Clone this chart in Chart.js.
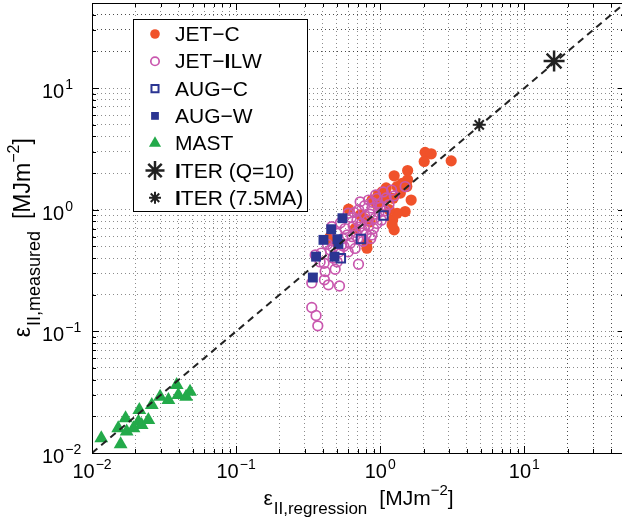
<!DOCTYPE html>
<html>
<head>
<meta charset="utf-8">
<script src="https://cdn.jsdelivr.net/npm/chart.js@4/dist/chart.umd.min.js"></script>
<style>
  html, body { margin: 0; padding: 0; background: #fff; overflow: hidden; }
  canvas { display: block; }
</style>
</head>
<body>
<canvas id="chart" width="630" height="519"></canvas>
<script>
// -----------------------------------------------------------------------------
// Data
// -----------------------------------------------------------------------------
const jetcX = [2.05, 2.26, 2.02, 3.11, 1.25, 1.55, 1.55, 1.31, 1.38, 1.23, 1.64, 1.49, 1.22, 1.25, 1.10, 0.603, 0.442, 0.809,
  0.968, 0.879, 1.03, 0.726, 0.853, 1.53, 1.31, 1.21, 0.809, 0.50, 0.67, 1.155, 0.45, 0.95, 1.08, 0.77, 1.42, 1.12];
const jetcY = [2.96, 2.88, 2.49, 2.52, 1.90, 2.10, 1.76, 1.55, 1.37, 1.24, 1.20, 0.965, 0.824, 0.682, 1.51, 1.01, 0.572, 0.53,
  1.32, 1.20, 1.40, 0.906, 0.794, 1.55, 0.935, 0.75, 0.482, 0.55, 0.70, 1.00, 0.60, 1.10, 1.25, 0.85, 1.65, 1.30];

const ilwX = [0.335, 0.359, 0.369, 0.335, 0.410, 0.437, 0.522, 0.415, 0.487, 0.408, 0.707, 0.354, 0.383, 0.450, 0.503, 0.462, 0.43, 0.39, 0.47, 0.52,
  1.49, 1.05, 0.726, 0.83, 0.95, 0.877, 1.0, 0.785, 0.92, 0.69, 0.65, 0.59, 0.75, 0.83, 0.877, 0.95, 0.47, 0.54, 0.62, 0.67, 0.50, 0.60, 0.53,
  0.71, 0.78, 0.88, 1.1, 1.15, 0.98, 0.85, 0.74, 0.68, 0.80, 0.90, 1.02, 1.08, 0.63, 0.57, 0.70, 0.76, 0.86, 0.60, 0.55, 0.66, 1.25, 1.2, 0.93, 0.82, 0.72, 0.97, 0.64, 0.56];
const ilwY = [0.157, 0.135, 0.111, 0.25, 0.265, 0.241, 0.236, 0.310, 0.324, 0.363, 0.356, 0.425, 0.372, 0.467, 0.372, 0.726, 0.52, 0.44, 0.40, 0.45,
  1.55, 1.40, 1.16, 1.20, 1.24, 1.03, 1.05, 0.88, 0.85, 0.82, 0.73, 0.62, 0.68, 0.73, 0.62, 0.77, 0.49, 0.51, 0.53, 0.48, 0.64, 0.935, 0.78,
  1.0, 1.08, 1.15, 1.25, 1.1, 0.95, 0.92, 0.77, 0.65, 0.63, 0.70, 0.82, 0.98, 0.86, 0.70, 0.58, 0.55, 0.58, 0.45, 0.58, 0.95, 1.3, 1.45, 1.32, 0.82, 0.72, 1.1, 0.6, 0.50];

const augcX = [0.735, 1.054, 0.533];
const augcY = [0.575, 0.894, 0.399];

const augwX = [0.547, 0.457, 0.404, 0.505, 0.513, 0.359, 0.482, 0.341];
const augwY = [0.851, 0.691, 0.565, 0.572, 0.523, 0.411, 0.411, 0.277];

const mastX = [0.0116, 0.0158, 0.0152, 0.0171, 0.0174, 0.0194, 0.0213, 0.0210, 0.0221, 0.0246, 0.0260, 0.0297, 0.0339, 0.0387, 0.0397, 0.0479, 0.0450];
const mastY = [0.0132, 0.0118, 0.0160, 0.0193, 0.0150, 0.0160, 0.0226, 0.0181, 0.0170, 0.0187, 0.0248, 0.0290, 0.0273, 0.0362, 0.0300, 0.0319, 0.0290];

const iterQ10X = [16.1];
const iterQ10Y = [16.7];
const iter75X = [4.87];
const iter75Y = [4.98];

const diagX = [0.01, 50];
const diagY = [0.01, 50];

const axisMin = 0.01;
const axisMax = 50;
const decadeExps = [-2, -1, 0, 1];          // labelled decades
const minorSteps = [1, 2, 3, 4, 5, 6, 7, 8, 9];
const tickLabels = ["\u22122", "\u22121", "0", "1"]; // exponents shown on "10"

const legendLabels = ["JET\u2212C", "JET\u2212ILW", "AUG\u2212C", "AUG\u2212W", "MAST", "ITER (Q=10)", "ITER (7.5MA)"];

// -----------------------------------------------------------------------------
// Helpers
// -----------------------------------------------------------------------------
const FONT = '"Liberation Sans", Arial, sans-serif';
const font = (s, w) => (w ? w + " " : "") + s + "px " + FONT;
const pts = (xs, ys) => xs.map((x, i) => ({ x, y: ys[i] }));

const gridValues = [];
for (const e of decadeExps) {
  for (const m of minorSteps) {
    const v = +(m * Math.pow(10, e)).toPrecision(6);
    if (v <= axisMax) gridValues.push(v);
  }
}
for (const m of [2, 3, 4]) gridValues.push(m * 10);   // 20, 30, 40 inside the last decade
const isDecade = (v) => Math.abs(Math.log10(v) - Math.round(Math.log10(v))) < 1e-9;

const ORANGE = "#F0522A";
const MAGENTA = "#C957AE";
const NAVY = "#2B3592";
const GREEN = "#23AA4A";
const DARK = "#222222";

// big markers must not push the plot area inwards
Chart.registry.getController("scatter").prototype.getMaxOverflow = () => 0;

// draw a run of text pieces [text, size, dy, gapAfter]
function runWidth(ctx, pieces) {
  let w = 0;
  for (const p of pieces) { ctx.font = font(p[1]); w += ctx.measureText(p[0]).width + (p[3] || 0); }
  return w;
}
function drawRun(ctx, pieces, x, y) {
  for (const p of pieces) {
    ctx.font = font(p[1]);
    ctx.fillText(p[0], x, y + p[2]);
    x += ctx.measureText(p[0]).width + (p[3] || 0);
  }
}
// legend text: the capital I comes out heavier in the original
function drawLegendText(ctx, text, x, y) {
  for (const ch of text) {
    ctx.font = font(21, ch === "I" ? "bold" : "");
    ctx.fillText(ch, x, y);
    x += ctx.measureText(ch).width;
  }
}

// -----------------------------------------------------------------------------
// Decorations plugin: box, inner ticks, tick labels, axis titles, legend
// -----------------------------------------------------------------------------
const decorations = {
  id: "decorations",
  afterDraw(chart) {
    const { ctx, chartArea: a, scales: { x, y } } = chart;
    ctx.save();
    ctx.strokeStyle = "#000";
    ctx.lineWidth = 1;

    // top and right sides of the box
    ctx.beginPath();
    ctx.moveTo(a.left, a.top + 0.5); ctx.lineTo(a.right, a.top + 0.5);
    ctx.moveTo(a.right - 0.5, a.top); ctx.lineTo(a.right - 0.5, a.bottom);
    ctx.stroke();

    // inner tick marks
    ctx.beginPath();
    for (const t of x.ticks) {
      const px = Math.round(x.getPixelForValue(t.value)) + 0.5;
      const len = isDecade(t.value) ? 7 : 4;
      ctx.moveTo(px, a.bottom); ctx.lineTo(px, a.bottom - len);
      ctx.moveTo(px, a.top); ctx.lineTo(px, a.top + len);
    }
    for (const t of y.ticks) {
      const py = Math.round(y.getPixelForValue(t.value)) + 0.5;
      const len = isDecade(t.value) ? 7 : 4;
      ctx.moveTo(a.left, py); ctx.lineTo(a.left + len, py);
      ctx.moveTo(a.right, py); ctx.lineTo(a.right - len, py);
    }
    ctx.stroke();

    // tick labels "10^n"
    ctx.fillStyle = "#000";
    ctx.textBaseline = "alphabetic";
    ctx.textAlign = "left";
    decadeExps.forEach((e, i) => {
      const v = Math.pow(10, e);
      const pieces = [["10", 20, 0, 1], [tickLabels[i], 14, -9]];
      const px = x.getPixelForValue(v);
      drawRun(ctx, pieces, px - runWidth(ctx, pieces) / 2, a.bottom + 25);
      const py = y.getPixelForValue(v);
      drawRun(ctx, pieces, 42, py + 10);
    });

    // x axis title
    const xt = [["\u03B5", 21, 0, 1], ["II,regression", 17, 9, 12], ["[MJm", 21, 0], ["\u22122", 15, -10], ["]", 21, 0]];
    const cx = (a.left + a.right) / 2;
    drawRun(ctx, xt, cx - runWidth(ctx, xt) / 2, 505);

    // y axis title (rotated), starting just below the 10^-1 level
    const yt = [["\u03B5", 23, 0, 1], ["II,measured", 18, 10, 12], ["[MJm", 23, 0], ["\u22122", 16, -11], ["]", 23, 0]];
    ctx.save();
    ctx.translate(30, y.getPixelForValue(0.1) + 6);
    ctx.rotate(-Math.PI / 2);
    drawRun(ctx, yt, 0, 0);
    ctx.restore();

    // legend box
    const lx = 133.5, ly = 19.5, lw = 174, lh = 192;
    ctx.fillStyle = "#fff";
    ctx.fillRect(lx, ly, lw, lh);
    ctx.strokeStyle = "#000";
    ctx.strokeRect(lx, ly, lw, lh);
    const legendMarks = [
      { ds: 1, radius: 4.8 },
      { ds: 2, radius: 4.2 },
      { ds: 3, radius: 5 },
      { ds: 4, radius: 5.5 },
      { ds: 5, radius: 7 },
      { ds: 6, radius: 9.5 },
      { ds: 7, radius: 6 },
    ];
    legendMarks.forEach((m, i) => {
      const d = chart.data.datasets[m.ds];
      const yy = 34 + i * 27.3;
      ctx.save();
      ctx.fillStyle = d.backgroundColor;
      ctx.strokeStyle = d.borderColor;
      ctx.lineWidth = d.borderWidth;
      Chart.helpers.drawPoint(ctx, { pointStyle: d.pointStyle, radius: m.radius, rotation: 0, borderWidth: d.borderWidth }, 155, yy);
      ctx.restore();
      ctx.fillStyle = "#000";
      drawLegendText(ctx, legendLabels[i], 175, yy + 7);
    });

    ctx.restore();
  }
};

// -----------------------------------------------------------------------------
// Chart
// -----------------------------------------------------------------------------
const logAxis = (position) => ({
  type: "logarithmic",
  position,
  min: axisMin,
  max: axisMax,
  afterBuildTicks: (scale) => { scale.ticks = gridValues.map(v => ({ value: v })); },
  ticks: { display: false, autoSkip: false },
  grid: { color: "rgba(0,0,0,0.45)", lineWidth: 1, drawTicks: false },
  border: { display: true, color: "#000", width: 1, dash: [1, 3] },
});

new Chart(document.getElementById("chart"), {
  type: "scatter",
  data: {
    datasets: [
      {
        label: "y = x",
        data: pts(diagX, diagY),
        showLine: true,
        borderColor: DARK,
        borderWidth: 2,
        borderDash: [7, 5],
        pointRadius: 0,
        order: 0,
      },
      {
        label: legendLabels[0], data: pts(jetcX, jetcY), pointStyle: "circle",
        pointRadius: 5.6, backgroundColor: ORANGE, borderColor: ORANGE, borderWidth: 0, order: 5,
      },
      {
        label: legendLabels[1], data: pts(ilwX, ilwY), pointStyle: "circle",
        pointRadius: 4.8, backgroundColor: "rgba(0,0,0,0)", borderColor: MAGENTA, borderWidth: 1.7, order: 4,
      },
      {
        label: legendLabels[2], data: pts(augcX, augcY), pointStyle: "rect",
        pointRadius: 6, backgroundColor: "rgba(0,0,0,0)", borderColor: NAVY, borderWidth: 2, order: 1,
      },
      {
        label: legendLabels[3], data: pts(augwX, augwY), pointStyle: "rect",
        pointRadius: 7, backgroundColor: NAVY, borderColor: NAVY, borderWidth: 0, order: 2,
      },
      {
        label: legendLabels[4], data: pts(mastX, mastY), pointStyle: "triangle",
        pointRadius: 8, backgroundColor: GREEN, borderColor: GREEN, borderWidth: 0, order: 6,
      },
      {
        label: legendLabels[5], data: pts(iterQ10X, iterQ10Y), pointStyle: "star",
        pointRadius: 10.5, backgroundColor: DARK, borderColor: DARK, borderWidth: 2.5, order: 7,
      },
      {
        label: legendLabels[6], data: pts(iter75X, iter75Y), pointStyle: "star",
        pointRadius: 6.5, backgroundColor: DARK, borderColor: DARK, borderWidth: 2, order: 8,
      },
    ]
  },
  options: {
    responsive: false,
    animation: false,
    devicePixelRatio: 1,
    layout: { padding: { left: 92, top: 3, right: 5, bottom: 66 } },
    plugins: { legend: { display: false }, tooltip: { enabled: false } },
    scales: {
      x: logAxis("bottom"),
      y: logAxis("left"),
    }
  },
  plugins: [decorations],
});
</script>
</body>
</html>
